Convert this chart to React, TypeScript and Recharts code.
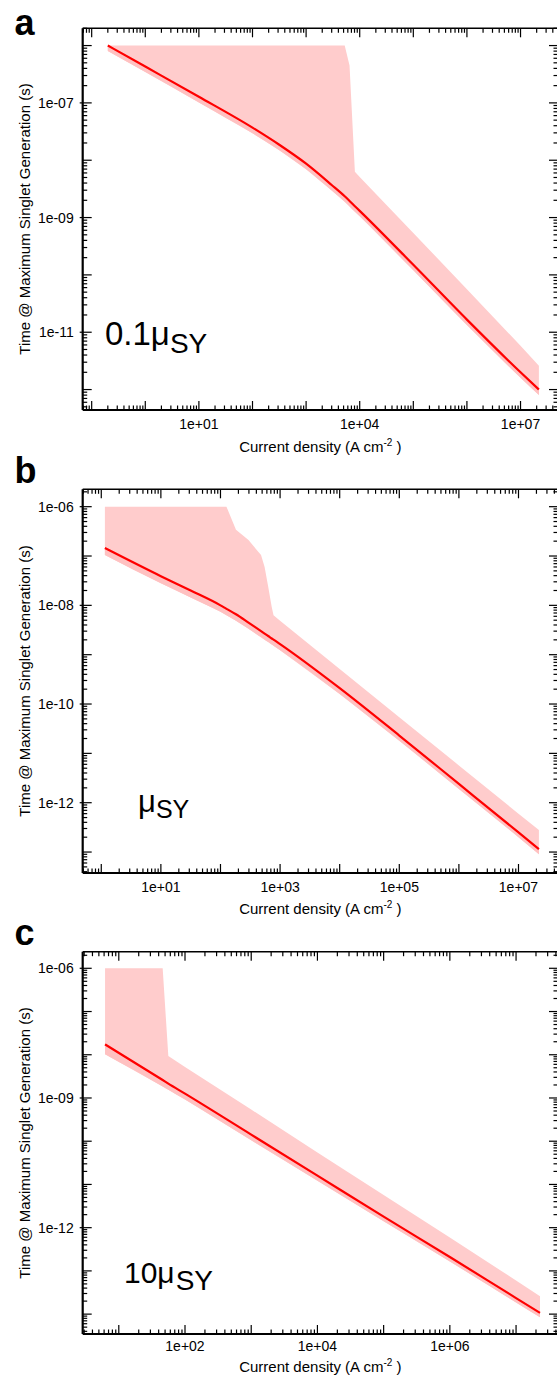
import React from 'react';
import { ComposedChart, Area, Line, XAxis, YAxis } from 'recharts';

const FONT = '"Liberation Sans", Arial, Helvetica, sans-serif';
const BAND = '#ffcccc';
const BAND_DARK = '#ffc1c1';
const RED = '#ff0000';

// ---------- Panel a : 0.1 muSY ----------
const densityA = [0.2, 1, 10, 100, 316, 1000, 3000, 5250, 6460, 8130, 1e4, 1e5, 1e6, 1e7, 2.2e7];
const timeA = [1e-6, 4.3e-7, 1.28e-7, 3.7e-8, 1.86e-8, 8.7e-9, 3.7e-9, 2.35e-9, 1.95e-9, 1.58e-9, 1.31e-9, 1.5e-10, 1.66e-11, 2.0e-12, 1.0e-12];
const bandLowA = [8e-7, 3.45e-7, 1.02e-7, 2.95e-8, 1.49e-8, 6.95e-9, 2.95e-9, 1.88e-9, 1.56e-9, 1.26e-9, 1.05e-9, 1.2e-10, 1.33e-11, 1.6e-12, 8e-13];
const bandHighA = [1e-6, 1e-6, 1e-6, 1e-6, 1e-6, 1e-6, 1e-6, 1e-6, 4.5e-7, 6.3e-9, 5.1e-9, 5.4e-10, 5.6e-11, 5.8e-12, 2.6e-12];
const xLabelValsA = [10, 1e4, 1e7];
const xLabelsA = ['1e+01', '1e+04', '1e+07'];
const yLabelValsA = [1e-7, 1e-9, 1e-11];
const yLabelsA = ['1e-07', '1e-09', '1e-11'];

// ---------- Panel b : muSY ----------
const densityB = [1.15, 10, 31.6, 100, 126, 182, 295, 479, 550, 631, 724, 776, 1000, 1e4, 1e5, 1e6, 1e7, 2.2e7];
const timeB = [1.45e-7, 3.9e-8, 2.0e-8, 1.0e-8, 8.5e-9, 6.6e-9, 4.47e-9, 3.0e-9, 2.68e-9, 2.39e-9, 2.13e-9, 2.02e-9, 1.64e-9, 2.1e-10, 2.3e-11, 2.4e-12, 2.5e-13, 1.15e-13];
const bandLowB = [1.05e-7, 2.8e-8, 1.45e-8, 7.4e-9, 6.3e-9, 4.9e-9, 3.35e-9, 2.25e-9, 2.0e-9, 1.8e-9, 1.6e-9, 1.52e-9, 1.23e-9, 1.6e-10, 1.8e-11, 1.9e-12, 2.0e-13, 9.0e-14];
const bandHighB = [1e-6, 1e-6, 1e-6, 1e-6, 1e-6, 3.4e-7, 2.1e-7, 1.05e-7, 6.0e-8, 2.4e-8, 9.3e-9, 6.3e-9, 4.9e-9, 5.1e-10, 5.4e-11, 5.7e-12, 6.0e-13, 2.8e-13];
const xLabelValsB = [10, 1e3, 1e5, 1e7];
const xLabelsB = ['1e+01', '1e+03', '1e+05', '1e+07'];
const yLabelValsB = [1e-6, 1e-8, 1e-10, 1e-12];
const yLabelsB = ['1e-06', '1e-08', '1e-10', '1e-12'];

// ---------- Panel c : 10 muSY ----------
const densityC = [6.2, 46, 56, 100, 1e3, 1e4, 1e5, 1e6, 1e7, 2.3e7];
const timeC = [1.74e-8, 2.6e-9, 2.15e-9, 1.26e-9, 1.42e-10, 1.6e-11, 1.8e-12, 2.1e-13, 2.35e-14, 1.07e-14];
const bandLowC = [1.03e-8, 1.85e-9, 1.55e-9, 9.2e-10, 1.05e-10, 1.22e-11, 1.4e-12, 1.65e-13, 1.87e-14, 8.5e-15];
const bandHighC = [1e-6, 1e-6, 9.3e-9, 5.2e-9, 5.4e-10, 5.5e-11, 5.7e-12, 5.9e-13, 6.0e-14, 2.6e-14];
const xLabelValsC = [100, 1e4, 1e6];
const xLabelsC = ['1e+02', '1e+04', '1e+06'];
const yLabelValsC = [1e-6, 1e-9, 1e-12];
const yLabelsC = ['1e-06', '1e-09', '1e-12'];

const PLOT_LEFT = 82.7;
const PLOT_RIGHT = 558;
const CHART_W = 600;
const AX = 10;

function logTicks(lo: number, hi: number) {
  const out: number[] = [];
  for (let e = Math.floor(Math.log10(lo)); e <= Math.ceil(Math.log10(hi)); e++) {
    for (let m = 1; m <= 9; m++) {
      const v = m * Math.pow(10, e);
      if (v >= lo && v <= hi) out.push(v);
    }
  }
  return out;
}

function isDecade(v: number) {
  const lg = Math.log10(v);
  return Math.abs(lg - Math.round(lg)) < 1e-6;
}

function labelFor(v: number, vals: number[], labels: string[]) {
  const i = vals.findIndex((lv) => Math.abs(Math.log10(lv) - Math.log10(v)) < 1e-6);
  return i >= 0 ? labels[i] : null;
}

type PanelProps = {
  top: number;
  plotTop: number;
  plotBottom: number;
  xDomain: [number, number];
  yDomain: [number, number];
  density: number[];
  time: number[];
  low: number[];
  high: number[];
  xLabelVals: number[];
  xLabels: string[];
  yLabelVals: number[];
  yLabels: string[];
  xLabelDy: number;
};

function Panel(p: PanelProps) {
  const H = p.plotBottom - p.top + 40;
  const data = p.density.map((x, i) => ({
    x,
    t: p.time[i],
    band: [p.low[i], p.high[i]],
    near: [p.low[i], p.time[i]],
  }));
  const margin = {
    top: p.plotTop - p.top - AX,
    bottom: H - (p.plotBottom - p.top) - AX,
    left: PLOT_LEFT - AX,
    right: CHART_W - PLOT_RIGHT - AX,
  };
  const xTicks = logTicks(p.xDomain[0], p.xDomain[1]);
  const yTicks = logTicks(p.yDomain[0], p.yDomain[1]);
  const tl = (v: number) => (isDecade(v) ? 9 : 4.5);

  const bottomTick = (props: any) => {
    const { x, y, payload } = props;
    const v = payload.value;
    const lab = labelFor(v, p.xLabelVals, p.xLabels);
    return (
      <g>
        <line x1={x} x2={x} y1={y} y2={y - tl(v)} stroke="#000" strokeWidth={1.2} />
        {lab && (
          <text x={x} y={y + p.xLabelDy} textAnchor="middle" fontSize={14} fontFamily={FONT} fill="#000">
            {lab}
          </text>
        )}
      </g>
    );
  };
  const topTick = (props: any) => {
    const { x, y, payload } = props;
    return <line x1={x} x2={x} y1={y} y2={y + tl(payload.value)} stroke="#000" strokeWidth={1.2} />;
  };
  const leftTick = (props: any) => {
    const { x, y, payload } = props;
    const v = payload.value;
    const lab = labelFor(v, p.yLabelVals, p.yLabels);
    return (
      <g>
        <line x1={lab ? x - 3 : x} x2={x + tl(v)} y1={y} y2={y} stroke="#000" strokeWidth={1.2} />
        {lab && (
          <text x={x - 9} y={y} dy="0.36em" textAnchor="end" fontSize={14} fontFamily={FONT} fill="#000">
            {lab}
          </text>
        )}
      </g>
    );
  };
  const rightTick = (props: any) => {
    const { x, y, payload } = props;
    return <line x1={x} x2={x - tl(payload.value)} y1={y} y2={y} stroke="#000" strokeWidth={1.2} />;
  };

  return (
    <div style={{ position: 'absolute', left: 0, top: p.top, width: CHART_W, height: H }}>
      <ComposedChart width={CHART_W} height={H} data={data} margin={margin}>
        <XAxis
          xAxisId="b"
          orientation="bottom"
          dataKey="x"
          type="number"
          scale="log"
          domain={p.xDomain}
          allowDataOverflow
          ticks={xTicks}
          interval={0}
          tickSize={0}
          tickMargin={0}
          height={AX}
          tickLine={false}
          axisLine={{ stroke: '#000', strokeWidth: 2.2 }}
          tick={bottomTick}
        />
        <XAxis
          xAxisId="t"
          orientation="top"
          dataKey="x"
          type="number"
          scale="log"
          domain={p.xDomain}
          allowDataOverflow
          ticks={xTicks}
          interval={0}
          tickSize={0}
          tickMargin={0}
          height={AX}
          tickLine={false}
          axisLine={{ stroke: '#000', strokeWidth: 1.5 }}
          tick={topTick}
        />
        <YAxis
          yAxisId="l"
          orientation="left"
          type="number"
          scale="log"
          domain={p.yDomain}
          allowDataOverflow
          ticks={yTicks}
          interval={0}
          tickSize={0}
          tickMargin={0}
          width={AX}
          tickLine={false}
          axisLine={{ stroke: '#000', strokeWidth: 2.2 }}
          tick={leftTick}
        />
        <YAxis
          yAxisId="r"
          orientation="right"
          type="number"
          scale="log"
          domain={p.yDomain}
          allowDataOverflow
          ticks={yTicks}
          interval={0}
          tickSize={0}
          tickMargin={0}
          width={AX}
          tickLine={false}
          axisLine={{ stroke: '#000', strokeWidth: 1.5 }}
          tick={rightTick}
        />
        <Area
          xAxisId="b"
          yAxisId="l"
          dataKey="band"
          type="linear"
          stroke="none"
          fill={BAND}
          fillOpacity={1}
          isAnimationActive={false}
        />
        <Area
          xAxisId="b"
          yAxisId="l"
          dataKey="near"
          type="monotoneX"
          stroke="none"
          fill={BAND_DARK}
          fillOpacity={1}
          isAnimationActive={false}
        />
        <Line
          xAxisId="b"
          yAxisId="l"
          dataKey="t"
          type="monotoneX"
          stroke={RED}
          strokeWidth={2.2}
          dot={false}
          isAnimationActive={false}
        />
      </ComposedChart>
    </div>
  );
}

function XTitle({ y }: { y: number }) {
  return (
    <text x={(PLOT_LEFT + PLOT_RIGHT) / 2} y={y} textAnchor="middle" fontSize={15} fontFamily={FONT} fill="#000">
      Current density (A cm
      <tspan dy={-6} fontSize={10}>-2</tspan>
      <tspan dy={6}> )</tspan>
    </text>
  );
}

function YTitle({ yc }: { yc: number }) {
  const x = 29.5;
  return (
    <text
      x={x}
      y={yc}
      transform={`rotate(-90 ${x} ${yc})`}
      textAnchor="middle"
      fontSize={15}
      fontFamily={FONT}
      fill="#000"
    >
      Time @ Maximum Singlet Generation (s)
    </text>
  );
}

export default function App() {
  return (
    <div
      style={{
        position: 'absolute',
        left: 0,
        top: 0,
        width: 557,
        height: 1381,
        overflow: 'hidden',
        background: '#fff',
      }}
    >
      <Panel
        top={0}
        plotTop={28.3}
        plotBottom={410}
        xDomain={[0.068, 5.0e7]}
        yDomain={[4.4e-13, 2.0e-6]}
        density={densityA}
        time={timeA}
        low={bandLowA}
        high={bandHighA}
        xLabelVals={xLabelValsA}
        xLabels={xLabelsA}
        yLabelVals={yLabelValsA}
        yLabels={yLabelsA}
        xLabelDy={19}
      />
      <Panel
        top={460}
        plotTop={489.3}
        plotBottom={873}
        xDomain={[0.488, 4.6e7]}
        yDomain={[3.76e-14, 2.25e-6]}
        density={densityB}
        time={timeB}
        low={bandLowB}
        high={bandHighB}
        xLabelVals={xLabelValsB}
        xLabels={xLabelsB}
        yLabelVals={yLabelValsB}
        yLabels={yLabelsB}
        xLabelDy={19}
      />
      <Panel
        top={925}
        plotTop={951.7}
        plotBottom={1334}
        xDomain={[2.85, 4.3e7]}
        yDomain={[3.47e-15, 2.42e-6]}
        density={densityC}
        time={timeC}
        low={bandLowC}
        high={bandHighC}
        xLabelVals={xLabelValsC}
        xLabels={xLabelsC}
        yLabelVals={yLabelValsC}
        yLabels={yLabelsC}
        xLabelDy={17}
      />
      <svg
        width={557}
        height={1381}
        style={{ position: 'absolute', left: 0, top: 0, pointerEvents: 'none' }}
      >
        <text x={14.5} y={35} fontSize={36} fontWeight="bold" fontFamily={FONT} fill="#000">a</text>
        <text x={14.5} y={483} fontSize={36} fontWeight="bold" fontFamily={FONT} fill="#000">b</text>
        <text x={14.5} y={945} fontSize={36} fontWeight="bold" fontFamily={FONT} fill="#000">c</text>

        <YTitle yc={219} />
        <YTitle yc={681} />
        <YTitle yc={1143} />

        <XTitle y={452} />
        <XTitle y={914} />
        <XTitle y={1372} />

        <text x={105} y={345} fontSize={33} fontFamily={FONT} fill="#000">
          0.1μ
          <tspan dx={0} dy={8} fontSize={28}>SY</tspan>
        </text>
        <text x={138} y={812} fontSize={31} fontFamily={FONT} fill="#000">
          μ
          <tspan dx={0} dy={6} fontSize={25}>SY</tspan>
        </text>
        <text x={124} y={1283} fontSize={30} fontFamily={FONT} fill="#000">
          10μ
          <tspan dx={1} dy={7} fontSize={28}>SY</tspan>
        </text>
      </svg>
    </div>
  );
}
